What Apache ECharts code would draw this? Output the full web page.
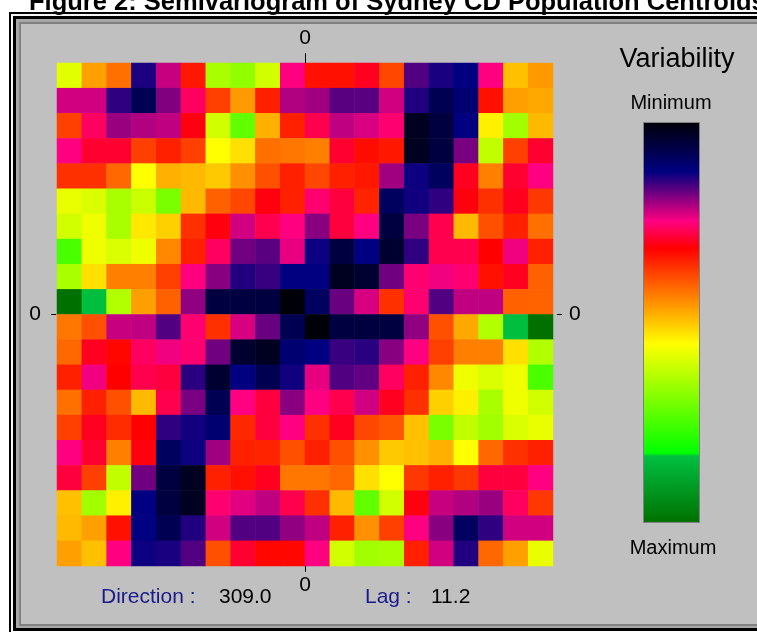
<!DOCTYPE html>
<html><head><meta charset="utf-8">
<script src="https://cdn.jsdelivr.net/npm/echarts@6/dist/echarts.min.js"></script>
<style>html,body{margin:0;padding:0;background:#fff}#c{width:757px;height:632px}</style>
</head><body><div id="c"></div>
<script>
// Lag cells (columns left->right, rows top->bottom)
const colCats = [0,1,2,3,4,5,6,7,8,9,10,11,12,13,14,15,16,17,18,19];
const rowCats = [0,1,2,3,4,5,6,7,8,9,10,11,12,13,14,15,16,17,18,19];
// Variability: 0 = Minimum, 100 = Maximum
const row00 = [58.6,46.5,42,13.7,22.1,33.7,64.6,67.1,60.3,24.8,33,33,29.8,38.2,16.3,13.6,12.4,24.8,49.5,45.8];
const row01 = [22.5,22.5,14.7,7.6,18.6,26.5,37.5,45.8,34.5,21,20.2,16.7,16.7,22.5,14,7.6,10.7,33,46.5,47.3];
const row02 = [37.5,26.5,19.8,21,21.7,30.7,60.3,72.2,48,34.5,27.4,21.7,22.9,25.6,2.5,5.8,12.4,54,65.4,48.8];
const row03 = [24.8,29,29,37.5,34.5,37.5,55.4,52.5,42,42.7,43.5,29,32.6,33.7,2.5,5.8,18.3,62,37.5,29];
const row04 = [36,36,41.2,55.4,48,48.8,50.3,45,39,34.5,38.2,34.5,33.7,20.2,13,9,29.8,43.5,29,24.8];
const row05 = [57.8,59.5,64.6,61.2,69.7,48.8,40.5,38.2,30.7,34.5,25.6,28.2,34.8,9,13.2,14.7,30.7,36,29.8,36.7];
const row06 = [60.3,57,64.6,53.3,51,36,30.7,22.5,27.4,24.8,19,28.2,24.8,5.8,18.3,27.4,48.8,39,34.5,42];
const row07 = [74.8,57,59.5,57,44.2,34.5,26.5,17.9,16.7,23.7,13,5.8,12.4,4.1,14.7,27.4,27.4,31.5,24.1,34.5];
const row08 = [64.6,52.5,43.5,43.5,37.5,24.8,19,14,15.1,12.4,12.4,2.5,4.1,17.9,25.6,24.1,25.6,33,29.8,40.5];
const row09 = [100,83.6,63.7,46.5,40.5,19.4,5.8,5.8,5.8,0,9,17.5,22.9,36,25.6,16.3,21.7,21.7,40.5,40.8];
const row10 = [42.7,39,22.1,21.7,16.3,25.6,36,22.9,17.5,7.6,0,5.8,5.8,5.8,19.4,39,47.3,63.7,83.6,100];
const row11 = [41.2,29.8,32.2,26.5,24.1,25.6,17.9,4.1,2.5,10.7,12.4,15.1,14.4,19,24.8,37.5,43.5,43.5,52.5,63.7];
const row12 = [34.5,24.1,31.5,27.4,28.2,14.5,4.1,12.4,7.6,13.2,23.7,16.3,17.1,26.5,34.5,44.2,57,59.5,57,74.8];
const row13 = [42,34.5,39,48.8,27.4,18.3,7.6,24.8,28.2,19,24.8,27.4,22.5,29.8,36,51,54,64.6,57,60.3];
const row14 = [37.5,29.8,35.6,31.5,14.7,13.2,10.7,35.2,28.2,24.8,36,29.8,38.2,39.7,49.5,69.7,62,65.4,59.5,57.8];
const row15 = [24.8,29,43.5,30.7,9,13,20.2,34.5,34.8,39,34.5,39,45,50.3,49.5,48,55.4,41.2,36,34.5];
const row16 = [28.2,37.5,62,17.9,5.8,2.5,34.5,33,29.8,42.7,42.7,41.2,52.5,55.4,36.7,34.5,36.7,28.2,28.2,24.8];
const row17 = [49.5,65.4,54,12.4,5.8,2.5,25.6,23.3,21.7,27.4,36,48.8,72.2,60.3,30.7,22.1,21,19.8,26.5,36.7];
const row18 = [48.8,46.5,33,12.4,7.6,14,22.5,16.3,16.3,19.4,21.7,34.5,45,37.5,24.8,19,9,14.7,22.5,22.5];
const row19 = [46.5,49.5,24.8,13,13.6,16.3,39,29,32.2,32.2,24.8,60.3,65.4,64.6,34.5,22.5,14,41.2,46.5,57.8];
const rows = [row00,row01,row02,row03,row04,row05,row06,row07,row08,row09,row10,row11,row12,row13,row14,row15,row16,row17,row18,row19];
const tickValues = [0];
const direction = '309.0';
const lag = '11.2';

// colour scale stops (value -> colour)
const scaleStops = [[0,'#000008'],[12.4,'#000080'],[24.8,'#ff0080'],[31.5,'#ff0000'],[55.4,'#ffff00'],[82.6,'#00ff00'],[83.3,'#00c040'],[100,'#007000']];

function hex2rgb(h){return [parseInt(h.slice(1,3),16),parseInt(h.slice(3,5),16),parseInt(h.slice(5,7),16)];}
function colorAt(v){
  for(let i=0;i<scaleStops.length-1;i++){
    const a=scaleStops[i], b=scaleStops[i+1];
    if(v<=b[0]){
      const t=(v-a[0])/(b[0]-a[0]);
      const ca=hex2rgb(a[1]), cb=hex2rgb(b[1]);
      return 'rgb('+ca.map((c,k)=>Math.round(c+(cb[k]-c)*t)).join(',')+')';
    }
  }
  return scaleStops[scaleStops.length-1][1];
}
const palette=[];
for(let i=0;i<=1000;i++) palette.push(colorAt(i/10));

const data=[];
rows.forEach((r,ri)=>r.forEach((v,ci)=>data.push([colCats[ci],rowCats[ri],v])));

const FONT='"Liberation Sans", Arial, sans-serif';
const chart=echarts.init(document.getElementById('c'),null,{renderer:'canvas'});

function zeroAxis(pos,len,margin,offset){
  return {type:'value',min:-10,max:10,position:pos,offset:offset||0,z:10,
    axisLine:{show:false,onZero:false},splitLine:{show:false},
    axisTick:{show:true,length:len,customValues:tickValues,lineStyle:{color:'#000',width:1}},
    axisLabel:{show:true,customValues:tickValues,margin:margin,fontSize:21,fontFamily:FONT,color:'#000'}};
}

chart.setOption({
  backgroundColor:'#ffffff',
  animation:false,
  grid:{left:57,top:63,width:496,height:503,outerBoundsMode:'none'},
  xAxis:[
    {type:'category',data:colCats,show:false,position:'top'},
    zeroAxis('top',10,14),
    zeroAxis('bottom',6,9)
  ],
  yAxis:[
    {type:'category',data:rowCats,inverse:true,show:false},
    zeroAxis('left',5,15,1),
    zeroAxis('right',5,12,4)
  ],
  visualMap:{type:'continuous',show:false,min:0,max:100,dimension:2,seriesIndex:0,inRange:{color:palette}},
  series:[{type:'heatmap',xAxisIndex:0,yAxisIndex:0,data:data,progressive:0,emphasis:{disabled:true},itemStyle:{borderWidth:0}}],
  graphic:[
    // window frame
    {type:'rect',z:-20,silent:true,shape:{x:16,y:19,width:760,height:609},style:{fill:'#c0c0c0'}},
    {type:'rect',z:-19,silent:true,shape:{x:10,y:13,width:800,height:640},style:{fill:'none',stroke:'#000',lineWidth:2}},
    {type:'rect',z:-19,silent:true,shape:{x:12,y:15,width:800,height:614},style:{fill:'none',stroke:'#f4f4f4',lineWidth:2}},
    {type:'rect',z:-19,silent:true,shape:{x:14.5,y:17.5,width:800,height:612},style:{fill:'none',stroke:'#000',lineWidth:3}},
    {type:'rect',z:-19,silent:true,shape:{x:17.5,y:20.5,width:800,height:606},style:{fill:'none',stroke:'#a8a8a8',lineWidth:3}},
    {type:'rect',z:-19,silent:true,shape:{x:20,y:23,width:800,height:602},style:{fill:'none',stroke:'#808080',lineWidth:2}},
    // title
    {type:'text',z:50,silent:true,style:{text:'Figure 2: Semivariogram of Sydney CD Population Centroids',x:29,y:3,verticalAlign:'middle',align:'left',font:'bold 25.5px '+FONT,fill:'#000'}},
    // colour legend
    {type:'text',z:50,silent:true,style:{text:'Variability',x:677,y:60,align:'center',verticalAlign:'middle',font:'27px '+FONT,fill:'#000'}},
    {type:'text',z:50,silent:true,style:{text:'Minimum',x:671,y:103,align:'center',verticalAlign:'middle',font:'20px '+FONT,fill:'#000'}},
    {type:'rect',z:50,silent:true,shape:{x:643.5,y:122.5,width:56,height:400},
      style:{stroke:'#808080',lineWidth:1,fill:new echarts.graphic.LinearGradient(0,0,0,1,scaleStops.map(s=>({offset:s[0]/100,color:s[1]})))}},
    {type:'text',z:50,silent:true,style:{text:'Maximum',x:673,y:548,align:'center',verticalAlign:'middle',font:'20px '+FONT,fill:'#000'}},
    // footer
    {type:'text',z:50,silent:true,style:{text:'Direction :',x:101,y:597,align:'left',verticalAlign:'middle',font:'21px '+FONT,fill:'#1a1a8a'}},
    {type:'text',z:50,silent:true,style:{text:direction,x:219,y:597,align:'left',verticalAlign:'middle',font:'21px '+FONT,fill:'#000'}},
    {type:'text',z:50,silent:true,style:{text:'Lag :',x:365,y:597,align:'left',verticalAlign:'middle',font:'21px '+FONT,fill:'#1a1a8a'}},
    {type:'text',z:50,silent:true,style:{text:lag,x:431,y:597,align:'left',verticalAlign:'middle',font:'21px '+FONT,fill:'#000'}}
  ]
});
</script></body></html>
